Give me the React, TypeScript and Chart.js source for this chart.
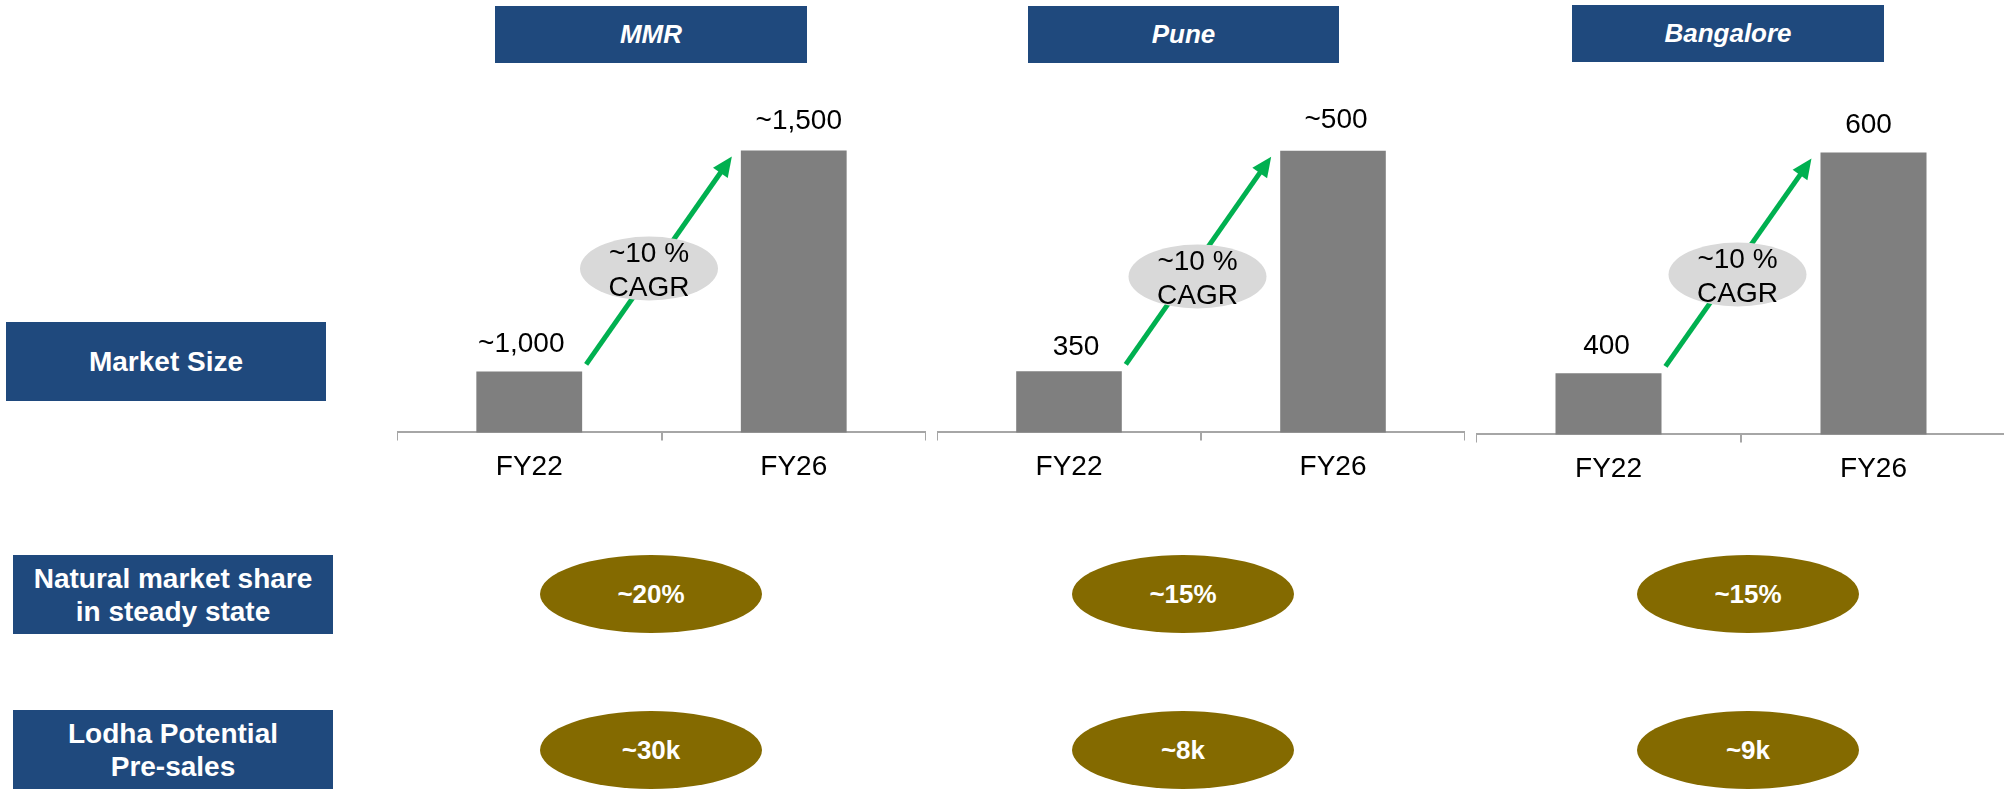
import React, { useEffect, useRef } from "react";
import { Chart, registerables } from "chart.js";

Chart.register(...registerables);

const FONT = '"Liberation Sans", Arial, Helvetica, sans-serif';

// ---- data ----
const categories = ["FY22", "FY26"];
const regions = ["MMR", "Pune", "Bangalore"];
const mmrValues = [1000, 1500];
const puneValues = [350, 500];
const bangaloreValues = [400, 600];
const mmrLabels = ["~1,000", "~1,500"];
const puneLabels = ["350", "~500"];
const bangaloreLabels = ["400", "600"];
const cagrLabels = ["~10 %", "~10 %", "~10 %"];
const rowLabels = ["Market Size", "Natural market share\nin steady state", "Lodha Potential\nPre-sales"];
const marketShare = ["~20%", "~15%", "~15%"];
const preSales = ["~30k", "~8k", "~9k"];
// bars are drawn not to scale in the source: truncated (hidden) value axis per panel
const axisMin = [862, 308.5, 344.7];
const axisMax = [1705, 561.6, 682.1];

// ---- layout / style ----
const BLUE = "#1F497D";
const OLIVE = "#846A00";
const BAR = "#7F7F7F";
const AXIS = "#A6A6A6";
const GREEN = "#00B050";
const CAGR_FILL = "#D9D9D9";

const panelLeft = [397, 937, 1476];
const panelTop = [60, 60, 62];
const panelWidth = [529, 528, 530];
const PANEL_H = 434;
const headerBoxes = [
  { x: 495, y: 6, w: 312, h: 57 },
  { x: 1028, y: 6, w: 311, h: 57 },
  { x: 1572, y: 5, w: 312, h: 57 },
];
const cagrShift = [
  [-10, 8],
  [-1, 16],
  [-1, 12],
];
const labelDx = [
  [-8, 5],
  [7, 3],
  [-2, -5],
];
const labelGap = [
  [19, 22],
  [16, 23],
  [19, 20],
];
const rowBoxes = [
  { x: 6, y: 322, w: 320, h: 79 },
  { x: 13, y: 555, w: 320, h: 79 },
  { x: 13, y: 710, w: 320, h: 79 },
];
const ovalCenterX = [651, 1183, 1748];
const ovalRowY = [594, 750];
const OVAL_W = 222;
const OVAL_H = 78;

const regionValues = [mmrValues, puneValues, bangaloreValues];
const regionLabels = [mmrLabels, puneLabels, bangaloreLabels];

function RegionChart({ idx }: { idx: number }) {
  const ref = useRef<HTMLCanvasElement>(null);
  useEffect(() => {
    const canvas = ref.current!;
    const labels = regionLabels[idx];
    const shift = cagrShift[idx];
    const annot = {
      id: "annot" + idx,
      afterDatasetsDraw(chart: any) {
        const c = chart.ctx as CanvasRenderingContext2D;
        const meta = chart.getDatasetMeta(0);
        const b0 = meta.data[0].getProps(["x", "y", "width"], true);
        const b1 = meta.data[1].getProps(["x", "y", "width"], true);
        c.save();
        // arrow
        const sx = b0.x + b0.width / 2 + 4;
        const sy = b0.y - 7;
        const ex = b1.x - b1.width / 2 - 9;
        const ey = b1.y + 6;
        const ang = Math.atan2(ey - sy, ex - sx);
        const head = 20;
        const hw = 9;
        const bx = ex - head * Math.cos(ang);
        const by = ey - head * Math.sin(ang);
        c.strokeStyle = GREEN;
        c.fillStyle = GREEN;
        c.lineWidth = 5;
        c.beginPath();
        c.moveTo(sx, sy);
        c.lineTo(bx + 2 * Math.cos(ang), by + 2 * Math.sin(ang));
        c.stroke();
        c.beginPath();
        c.moveTo(ex, ey);
        c.lineTo(bx + hw * Math.sin(ang), by - hw * Math.cos(ang));
        c.lineTo(bx - hw * Math.sin(ang), by + hw * Math.cos(ang));
        c.closePath();
        c.fill();
        // CAGR bubble
        const cx = (sx + ex) / 2 + shift[0];
        const cy = (sy + ey) / 2 + shift[1];
        c.fillStyle = CAGR_FILL;
        c.beginPath();
        c.ellipse(cx, cy, 69, 32, 0, 0, Math.PI * 2);
        c.fill();
        c.fillStyle = "#000";
        c.font = `28px ${FONT}`;
        c.textAlign = "center";
        c.textBaseline = "alphabetic";
        c.fillText(cagrLabels[idx], cx, cy - 6);
        c.fillText("CAGR", cx, cy + 28);
        // value labels
        [b0, b1].forEach((b: any, i: number) => {
          c.fillText(labels[i], b.x + labelDx[idx][i], b.y - labelGap[idx][i]);
        });
        c.restore();
      },
    };
    const chart = new Chart(canvas, {
      type: "bar",
      data: {
        labels: categories,
        datasets: [
          {
            data: regionValues[idx],
            backgroundColor: BAR,
            borderWidth: 0,
            barPercentage: 0.4,
            categoryPercentage: 1,
          },
        ],
      },
      options: {
        responsive: false,
        animation: false,
        devicePixelRatio: 1,
        layout: { padding: 0 },
        plugins: { legend: { display: false }, tooltip: { enabled: false } },
        scales: {
          x: {
            type: "category",
            offset: true,
            grid: {
              display: true,
              offset: true,
              drawOnChartArea: false,
              drawTicks: true,
              tickLength: 8,
              color: AXIS,
              lineWidth: 2,
            },
            border: { display: true, color: AXIS, width: 2 },
            ticks: {
              color: "#000",
              font: { family: FONT, size: 28 },
              padding: 10,
              maxRotation: 0,
              autoSkip: false,
            },
          },
          y: { display: false, min: axisMin[idx], max: axisMax[idx] },
        },
      },
      plugins: [annot],
    } as any);
    return () => chart.destroy();
  }, [idx]);
  return (
    <canvas
      ref={ref}
      width={panelWidth[idx]}
      height={PANEL_H}
      style={{ position: "absolute", left: panelLeft[idx], top: panelTop[idx], width: panelWidth[idx], height: PANEL_H }}
    />
  );
}

export default function App() {
  return (
    <div
      style={{
        position: "absolute",
        left: 0,
        top: 0,
        width: 2004,
        height: 793,
        overflow: "hidden",
        background: "#fff",
        fontFamily: FONT,
      }}
    >
      {regions.map((r, i) => (
        <div
          key={r}
          style={{
            position: "absolute",
            left: headerBoxes[i].x,
            top: headerBoxes[i].y,
            width: headerBoxes[i].w,
            height: headerBoxes[i].h,
            background: BLUE,
            color: "#fff",
            fontWeight: "bold",
            fontStyle: "italic",
            fontSize: 26,
            display: "flex",
            alignItems: "center",
            justifyContent: "center",
          }}
        >
          {r}
        </div>
      ))}
      {rowLabels.map((t, i) => (
        <div
          key={t}
          style={{
            position: "absolute",
            left: rowBoxes[i].x,
            top: rowBoxes[i].y,
            width: rowBoxes[i].w,
            height: rowBoxes[i].h,
            background: BLUE,
            color: "#fff",
            fontWeight: "bold",
            fontSize: 28,
            lineHeight: "33px",
            whiteSpace: "pre-line",
            textAlign: "center",
            display: "flex",
            alignItems: "center",
            justifyContent: "center",
          }}
        >
          {t}
        </div>
      ))}
      {regions.map((r, i) => (
        <RegionChart key={"c" + r} idx={i} />
      ))}
      {[marketShare, preSales].map((row, ri) =>
        row.map((t, i) => (
          <div
            key={ri + "-" + i}
            style={{
              position: "absolute",
              left: ovalCenterX[i] - OVAL_W / 2,
              top: ovalRowY[ri] - OVAL_H / 2,
              width: OVAL_W,
              height: OVAL_H,
              borderRadius: "50%",
              background: OLIVE,
              color: "#fff",
              fontWeight: "bold",
              fontSize: 26,
              display: "flex",
              alignItems: "center",
              justifyContent: "center",
            }}
          >
            {t}
          </div>
        ))
      )}
    </div>
  );
}
